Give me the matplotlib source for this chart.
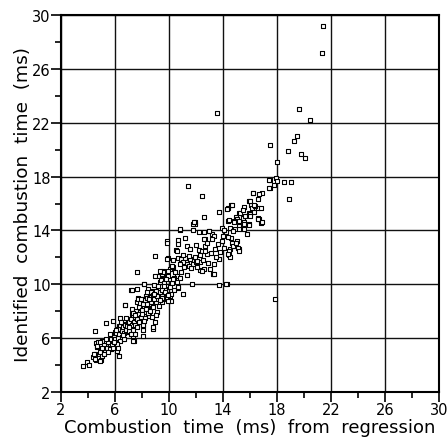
import numpy as np
import matplotlib
matplotlib.use("Agg")
import matplotlib.pyplot as plt
from matplotlib.ticker import MultipleLocator

# (regression time, identified time) in ms
outlier_pts = [(21.41, 29.17), (21.34, 27.15), (19.63, 23.02), (20.42, 22.2), (13.57, 22.7),
               (19.51, 20.99), (19.23, 20.67), (17.48, 20.35), (18.84, 19.93), (19.78, 19.66),
               (20.08, 19.36), (17.97, 19.06), (17.9, 17.93), (17.48, 17.78), (18.0, 17.7),
               (18.5, 17.58), (19.04, 17.58), (17.75, 17.38), (17.45, 17.13), (18.89, 16.37),
               (11.4, 17.28), (17.88, 8.88), (14.26, 9.99), (17.38, 17.18), (17.38, 17.75)]

upper_pts = [(12.48, 16.54), (13.67, 15.4), (12.6, 15.03), (16.86, 16.81), (16.19, 16.76),
             (16.56, 16.37), (14.59, 15.87), (15.58, 15.77), (15.95, 16.22), (16.07, 15.87),
             (16.32, 15.82), (16.56, 15.7), (16.81, 15.65), (15.2, 15.33), (14.96, 15.03),
             (15.45, 14.96), (16.56, 14.96), (14.34, 15.7), (14.29, 15.58), (14.66, 15.87),
             (15.28, 15.33), (15.03, 14.83), (15.65, 15.08), (15.9, 15.33), (16.15, 15.7),
             (16.02, 16.19), (16.22, 16.76), (16.64, 16.69), (16.39, 15.82), (16.64, 14.83),
             (15.9, 14.46), (14.78, 14.71), (14.54, 14.21), (14.91, 14.1), (15.15, 14.34),
             (15.4, 14.1), (15.52, 14.59), (15.78, 13.72), (14.66, 13.1), (14.54, 12.61),
             (14.41, 12.16), (14.54, 11.99), (14.91, 12.85), (15.15, 12.61), (15.03, 13.22),
             (14.22, 13.85), (14.71, 12.85), (14.46, 12.48), (14.34, 12.24), (15.08, 12.73),
             (15.2, 12.48), (14.96, 13.1), (14.59, 13.47), (14.71, 13.97), (15.2, 14.1),
             (15.58, 14.1), (14.34, 14.71), (14.83, 14.59), (15.58, 14.46), (15.95, 14.39),
             (16.81, 14.54), (16.56, 14.83), (11.94, 14.51), (11.81, 14.04), (10.78, 14.04),
             (12.19, 13.85), (12.56, 13.85), (12.93, 13.97), (13.18, 13.72), (13.3, 13.6),
             (12.68, 13.35), (11.81, 14.46), (11.94, 14.59), (10.78, 14.1), (11.87, 14.64),
             (14.41, 14.79), (15.15, 14.71), (15.97, 15.2), (16.89, 14.64), (16.27, 15.87),
             (16.0, 15.1), (16.3, 15.4), (15.5, 15.5), (13.9, 14.2), (14.1, 14.0), (14.4, 13.5)]

mid_pts = [(9.84, 13.18), (10.7, 13.28), (10.7, 12.98), (11.2, 13.42), (11.32, 12.85),
           (11.57, 12.61), (10.53, 12.53), (12.19, 12.56), (12.44, 12.48), (12.68, 12.85),
           (12.56, 13.35), (9.96, 11.94), (10.63, 11.92), (10.88, 11.87), (11.2, 11.92),
           (11.57, 11.87), (11.32, 11.49), (11.81, 11.49), (12.01, 11.62), (12.31, 11.62),
           (12.56, 11.12), (13.3, 11.54), (13.74, 11.87), (13.25, 10.75), (12.31, 11.07),
           (9.54, 11.0), (10.09, 11.12), (10.33, 11.32), (10.46, 10.88), (10.58, 10.63),
           (9.59, 10.63), (9.72, 10.88), (9.47, 10.26), (10.09, 10.38), (10.38, 10.5),
           (11.69, 10.01), (13.67, 9.94), (14.24, 10.01), (9.89, 9.84), (8.97, 12.11),
           (9.84, 13.1), (9.84, 11.87), (10.21, 11.37), (10.58, 12.48), (11.07, 11.62),
           (11.45, 11.37), (12.07, 11.74), (12.44, 10.99), (13.05, 11.12), (13.3, 10.75),
           (12.81, 12.24), (11.0, 9.27), (10.63, 9.69), (10.14, 8.77), (10.09, 9.14),
           (10.83, 10.5), (9.96, 9.89), (12.93, 13.97), (10.2, 10.1), (10.4, 9.6),
           (10.6, 10.2), (10.9, 10.9), (11.1, 11.3), (11.3, 10.7), (11.6, 11.2),
           (11.9, 12.0), (12.1, 11.3), (12.3, 12.2), (12.5, 11.8), (12.7, 12.5),
           (12.9, 11.6), (13.1, 12.3), (13.4, 12.6), (13.5, 12.0), (13.8, 12.4),
           (13.9, 13.2), (14.1, 12.7), (13.6, 13.0), (14.0, 13.6), (11.0, 12.2),
           (10.8, 11.5), (10.3, 11.8), (11.5, 12.1), (12.0, 12.9), (12.8, 13.1), (13.2, 13.4)]

low_pts = [(3.66, 3.9), (3.95, 4.2), (4.1, 4.0), (4.52, 6.55), (4.4, 4.57), (4.6, 4.4),
           (4.77, 4.5), (4.94, 4.4), (4.52, 4.82), (4.65, 5.32), (4.6, 5.64), (4.77, 5.68),
           (5.0, 5.8), (5.14, 4.94), (5.19, 5.19), (5.39, 5.06), (5.34, 7.1), (5.51, 5.43),
           (5.64, 5.56), (5.71, 5.19), (5.76, 5.93), (5.88, 6.18), (5.83, 7.24), (6.0, 6.42),
           (6.08, 5.8), (6.13, 6.18), (6.33, 4.64), (6.25, 6.67), (6.38, 7.49), (6.33, 6.92),
           (6.5, 6.3), (6.57, 6.8), (6.62, 5.93), (6.75, 8.45), (6.82, 7.04), (6.87, 6.42),
           (6.99, 7.29), (7.12, 6.73), (7.24, 8.16), (7.24, 7.79), (7.32, 7.17), (7.36, 6.18),
           (7.42, 5.8), (7.49, 7.66), (7.62, 10.88), (7.66, 9.64), (7.62, 8.65), (7.74, 8.95),
           (7.86, 8.16), (7.91, 8.9), (7.99, 8.65), (8.06, 7.42), (8.11, 6.62), (8.16, 10.01),
           (8.23, 7.91), (8.31, 9.14), (8.36, 8.4), (8.48, 8.77), (8.55, 7.66), (8.6, 9.27),
           (8.73, 8.28), (8.8, 6.67), (8.85, 9.03), (8.9, 9.94), (8.97, 7.17), (9.05, 8.65),
           (9.1, 7.91), (9.15, 9.64), (9.22, 10.63), (9.34, 10.14), (9.29, 9.14), (9.47, 10.75),
           (9.47, 8.65), (9.59, 10.38), (9.72, 9.64), (9.84, 9.27), (9.96, 8.77), (10.09, 9.77),
           (10.14, 9.27), (9.96, 10.63), (9.59, 10.88), (7.17, 9.59), (8.97, 10.63), (9.34, 11.0),
           (9.89, 11.0), (10.46, 10.88), (10.7, 9.77), (10.33, 10.38), (8.73, 9.52), (8.48, 9.64),
           (4.45, 4.82), (4.52, 4.45), (4.9, 4.32), (4.65, 5.43), (4.9, 5.68), (5.0, 4.69),
           (5.26, 5.06), (5.64, 5.56), (6.0, 5.56), (6.13, 5.06), (6.38, 6.92), (6.62, 6.05),
           (6.77, 8.45), (6.99, 6.92), (7.12, 7.17), (7.24, 9.57), (7.32, 7.66), (7.36, 5.8),
           (7.49, 6.3), (7.62, 7.42), (7.74, 8.9), (7.86, 7.91), (8.06, 6.18), (8.11, 6.92),
           (8.18, 10.01), (8.36, 8.53), (8.6, 9.03), (8.85, 6.8), (9.1, 8.9), (9.47, 9.27),
           (9.59, 8.9)]

dense_pts = [(5.2, 5.5), (5.4, 5.3), (5.5, 5.7), (5.6, 5.2), (5.7, 5.9), (5.8, 5.5), (5.9, 6.1),
             (6.0, 5.9), (6.1, 6.4), (6.2, 6.0), (6.3, 6.3), (6.4, 6.6), (6.5, 6.1), (6.55, 6.5),
             (6.6, 6.8), (6.7, 6.4), (6.75, 7.0), (6.8, 6.6), (6.9, 6.9), (7.0, 6.5), (7.0, 7.2),
             (7.1, 6.9), (7.2, 7.4), (7.25, 7.0), (7.3, 6.6), (7.4, 7.2), (7.45, 7.6), (7.5, 7.0),
             (7.55, 8.0), (7.6, 7.4), (7.7, 7.8), (7.75, 8.3), (7.8, 7.2), (7.85, 8.6), (7.9, 7.6),
             (8.0, 8.1), (8.05, 7.0), (8.1, 8.5), (8.2, 8.8), (8.25, 7.5), (8.3, 8.2), (8.4, 9.0),
             (8.45, 7.9), (8.5, 8.5), (8.6, 8.0), (8.65, 9.4), (8.7, 8.7), (8.8, 9.2), (8.85, 8.3),
             (8.9, 8.9), (9.0, 9.5), (9.05, 7.7), (9.1, 9.1), (9.2, 9.9), (9.25, 8.4), (9.3, 9.4),
             (9.4, 10.3), (9.45, 9.0), (9.5, 9.6), (9.6, 10.1), (9.7, 9.4), (9.8, 10.4), (9.9, 9.2),
             (6.2, 6.7), (6.35, 5.8), (6.45, 7.2), (6.65, 5.9), (6.85, 7.5), (7.15, 6.3), (7.35, 7.9),
             (7.65, 6.8), (7.95, 8.9), (8.15, 7.3), (8.35, 9.4), (8.55, 8.9), (8.75, 7.6), (4.9, 5.0),
             (5.05, 5.3), (5.15, 4.8), (5.3, 5.9), (5.45, 5.0), (5.65, 6.3), (5.85, 5.3), (6.05, 6.6),
             (6.15, 5.6), (6.25, 5.3), (5.95, 5.7), (6.6, 6.2), (7.05, 6.8), (7.5, 7.7), (8.0, 7.8),
             (8.4, 8.5), (8.9, 9.3), (9.3, 8.8), (9.6, 9.9)]

ticks = [2, 6, 10, 14, 18, 22, 26, 30]

all_pts = np.array(outlier_pts + upper_pts + mid_pts + low_pts + dense_pts)
x_reg = all_pts[:, 0]
y_id = all_pts[:, 1]

plt.rcParams['font.family'] = 'DejaVu Sans'

fig = plt.figure(figsize=(4.48, 4.39), dpi=100)
ax = fig.add_axes([61/448, 46/439, 378/448, 377/439])

ax.set_xlim(2, 30)
ax.set_ylim(2, 30)
ax.set_xticks(ticks)
ax.set_yticks(ticks)
ax.xaxis.set_minor_locator(MultipleLocator(2))
ax.yaxis.set_minor_locator(MultipleLocator(2))
ax.grid(True, which='major', color='#111111', lw=1.0)
ax.set_axisbelow(True)

ax.scatter(x_reg, y_id, marker='s', s=9, facecolors='white', edgecolors='black',
           linewidths=0.8, zorder=3)

for sp in ax.spines.values():
    sp.set_linewidth(1.5)
ax.tick_params(which='major', direction='out', length=7, width=1.2, labelsize=10.5, pad=0.5)
ax.tick_params(which='minor', direction='out', length=4, width=1.2)

ax.set_xlabel("Combustion  time  (ms)  from  regression", fontsize=13, labelpad=0.5)
ax.set_ylabel("Identified  combustion  time  (ms)", fontsize=13.3, labelpad=0)

fig.savefig("out.png", dpi=100)
